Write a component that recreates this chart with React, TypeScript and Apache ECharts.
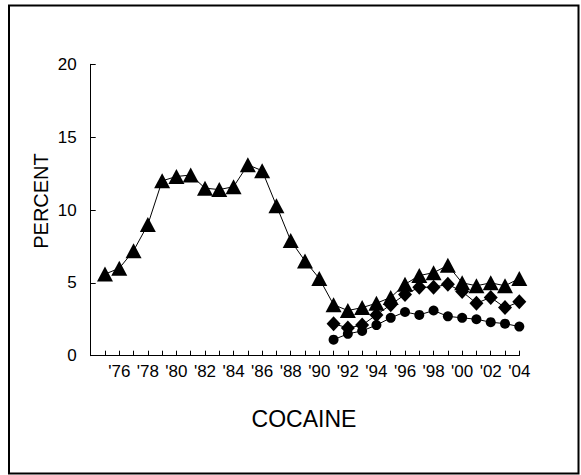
import React, { useEffect, useRef } from "react";
import * as echarts from "echarts";

const years = [
  1975, 1976, 1977, 1978, 1979, 1980, 1981, 1982, 1983, 1984, 1985, 1986, 1987, 1988, 1989,
  1990, 1991, 1992, 1993, 1994, 1995, 1996, 1997, 1998, 1999, 2000, 2001, 2002, 2003, 2004,
];
const grade12 = [
  5.6, 6.0, 7.2, 9.0, 12.0, 12.3, 12.4, 11.5, 11.4, 11.6, 13.1, 12.7, 10.3, 7.9, 6.5,
  5.3, 3.5, 3.1, 3.3, 3.6, 4.0, 4.9, 5.5, 5.7, 6.2, 5.0, 4.8, 5.0, 4.8, 5.3,
];
const laterYears = [1991, 1992, 1993, 1994, 1995, 1996, 1997, 1998, 1999, 2000, 2001, 2002, 2003, 2004];
const grade10 = [2.2, 1.9, 2.1, 2.8, 3.5, 4.2, 4.7, 4.7, 4.9, 4.4, 3.6, 4.0, 3.3, 3.7];
const grade8 = [1.1, 1.5, 1.7, 2.1, 2.6, 3.0, 2.8, 3.1, 2.7, 2.6, 2.5, 2.3, 2.2, 2.0];
const yTicks = [0, 5, 10, 15, 20];
const xTitle = "COCAINE";
const yTitle = "PERCENT";

const FONT = "'Liberation Sans', Arial, sans-serif";

export default function App() {
  const ref = useRef<HTMLDivElement>(null);
  useEffect(() => {
    document.body.style.margin = "0";
    if (!ref.current) return;
    const chart = echarts.init(ref.current, null, { renderer: "svg" });
    const lineStyle = { color: "#000", width: 1 };
    chart.setOption({
      animation: false,
      backgroundColor: "#fff",
      grid: { left: 90.7, right: 61.7, top: 64.3, bottom: 119.3, containLabel: false },
      xAxis: {
        type: "value",
        min: 1974,
        max: 2004,
        interval: 1,
        axisLine: { lineStyle: { color: "#000", width: 1 } },
        axisTick: { inside: true, length: 5, lineStyle: { color: "#000" } },
        splitLine: { show: false },
        axisLabel: {
          color: "#000",
          fontSize: 17,
          fontFamily: FONT,
          margin: 7,
          showMinLabel: true,
          showMaxLabel: true,
          formatter: (v: number) =>
            v >= 1976 && v % 2 === 0 ? "'" + String(v).slice(2) : "",
        },
      },
      yAxis: {
        type: "value",
        min: yTicks[0],
        max: yTicks[yTicks.length - 1],
        interval: 5,
        axisLine: { show: true, lineStyle: { color: "#000", width: 1 } },
        axisTick: { show: true, inside: true, length: 5, lineStyle: { color: "#000" } },
        splitLine: { show: false },
        axisLabel: { color: "#000", fontSize: 17, fontFamily: FONT, margin: 14 },
      },
      graphic: [
        {
          type: "rect",
          shape: { x: 9, y: 5.5, width: 569.5, height: 468 },
          style: { fill: "none", stroke: "#000", lineWidth: 2 },
          silent: true,
        },
        {
          type: "text",
          x: 304,
          y: 419,
          style: {
            text: xTitle,
            fontSize: 23,
            fontFamily: FONT,
            fill: "#000",
            textAlign: "center",
            textVerticalAlign: "middle",
          },
        },
        {
          type: "text",
          x: 40.5,
          y: 201,
          rotation: Math.PI / 2,
          style: {
            text: yTitle,
            fontSize: 20,
            fontFamily: FONT,
            fill: "#000",
            textAlign: "center",
            textVerticalAlign: "middle",
          },
        },
      ],
      series: [
        {
          type: "line",
          name: "8th grade",
          data: laterYears.map((y, i) => [y, grade8[i]]),
          symbol: "circle",
          symbolSize: 10,
          itemStyle: { color: "#000" },
          lineStyle,
        },
        {
          type: "line",
          name: "10th grade",
          data: laterYears.map((y, i) => [y, grade10[i]]),
          symbol: "diamond",
          symbolSize: [14, 15],
          itemStyle: { color: "#000" },
          lineStyle,
        },
        {
          type: "line",
          name: "12th grade",
          data: years.map((y, i) => [y, grade12[i]]),
          symbol: "triangle",
          symbolSize: [16, 15],
          itemStyle: { color: "#000" },
          lineStyle,
        },
      ],
    });
    return () => chart.dispose();
  }, []);
  return (
    <div
      ref={ref}
      style={{ position: "absolute", left: 0, top: 0, width: 581, height: 475, background: "#fff" }}
    />
  );
}
